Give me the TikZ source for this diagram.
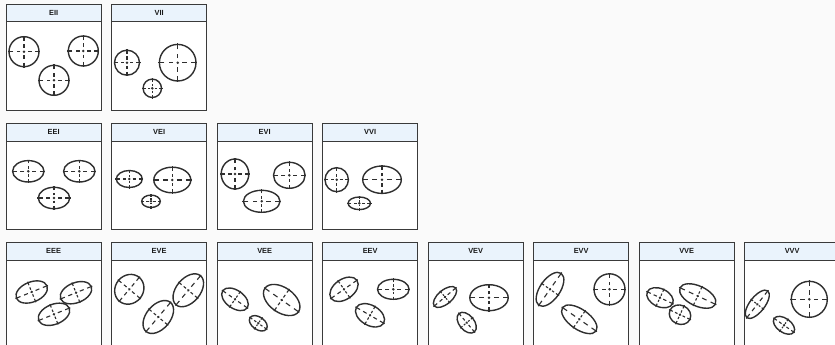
\documentclass[tikz,border=0pt]{standalone}
\usepackage{fontspec}
\setmainfont{Liberation Sans}
\definecolor{bg}{HTML}{FAFAFA}
\definecolor{hd}{HTML}{EAF3FC}
\definecolor{bd}{HTML}{3A3A3A}
\definecolor{ln}{HTML}{2F2F2F}
\tikzset{
  panelbody/.style={draw=bd, line width=1pt, fill=white, minimum width=95.3pt, minimum height=106.2pt, inner sep=0pt, outer sep=0pt, anchor=north west},
  panelhead/.style={draw=bd, line width=1pt, fill=hd, minimum width=95.3pt, minimum height=17.7pt, inner sep=0pt, outer sep=0pt, anchor=north west, font=\bfseries\fontsize{7.4}{8}\selectfont, text=black!90},
  ell/.style={draw=ln, line width=1.4pt},
  ax/.style={draw=ln, line width=1.1pt},
}
\newcommand{\gmell}[5]{%
  \begin{scope}[shift={(#1,#2)}, rotate=#5]
    \draw[ell] (0,0) ellipse [x radius=#3pt, y radius=#4pt];
    \foreach \s in {1,-1} {
      \draw[ax] ({\s*0.25*#3},0) -- ({\s*0.5*#3},0);
      \draw[ax] ({\s*0.73*#3},0) -- ({\s*(#3+1)},0);
      \draw[ax] (0,{\s*0.25*#4}) -- (0,{\s*0.5*#4});
      \draw[ax] (0,{\s*0.73*#4}) -- (0,{\s*(#4+1)});
    }
    \fill[ln] (0,0) circle [radius=1.4pt];
  \end{scope}}
\newcommand{\gmpanel}[4]{%
  \node[panelbody] (b#1) at ({6+105.5*#2},{4.3+119*#3}) {};
  \node[panelhead] (h#1) at ({6+105.5*#2},{4.3+119*#3}) {#4};}
\begin{document}
\begin{tikzpicture}[x=1pt, y=-1pt]
  \fill[bg] (0,0) rectangle (835,345);
  \useasboundingbox (0,0) rectangle (835,345);
  \clip (0,0) rectangle (835,345);
  % row 1
  \gmpanel{EII}{0}{0}{EII}
  \gmpanel{VII}{1}{0}{VII}
  % row 2
  \gmpanel{EEI}{0}{1}{EEI}
  \gmpanel{VEI}{1}{1}{VEI}
  \gmpanel{EVI}{2}{1}{EVI}
  \gmpanel{VVI}{3}{1}{VVI}
  % row 3
  \gmpanel{EEE}{0}{2}{EEE}
  \gmpanel{EVE}{1}{2}{EVE}
  \gmpanel{VEE}{2}{2}{VEE}
  \gmpanel{EEV}{3}{2}{EEV}
  \gmpanel{VEV}{4}{2}{VEV}
  \gmpanel{EVV}{5}{2}{EVV}
  \gmpanel{VVE}{6}{2}{VVE}
  \gmpanel{VVV}{7}{2}{VVV}
  % EII
  \gmell{24}{51.7}{15}{15}{0}
  \gmell{83.3}{51}{15}{15}{0}
  \gmell{54}{80.3}{15}{15}{0}
  % VII
  \gmell{127}{62.7}{12.5}{12.5}{0}
  \gmell{177.7}{62.7}{18.3}{18.3}{0}
  \gmell{152.3}{88.3}{9.2}{9.2}{0}
  % EEI
  \gmell{28.3}{171.3}{15.7}{10.7}{0}
  \gmell{79.3}{171.3}{15.7}{10.7}{0}
  \gmell{54}{198}{15.7}{10.7}{0}
  % VEI
  \gmell{129.3}{179}{13}{8.5}{0}
  \gmell{172.3}{180}{18.5}{12.8}{0}
  \gmell{151}{201.3}{9.3}{6.2}{0}
  % EVI
  \gmell{235}{174}{13.8}{15}{0}
  \gmell{289.3}{175.3}{15.8}{13}{0}
  \gmell{261.7}{201.3}{18.3}{11}{0}
  % VVI
  \gmell{336.7}{179.7}{11.7}{12}{0}
  \gmell{382}{179.7}{19.3}{13.7}{0}
  \gmell{359.3}{203.3}{11.2}{6.3}{0}
  % EEE
  \gmell{31.7}{292}{16.5}{10}{22}
  \gmell{76}{292.7}{16.5}{10}{22}
  \gmell{54}{314.3}{16.5}{10}{22}
  % EVE
  \gmell{129.3}{289.3}{15.5}{14}{50}
  \gmell{188.3}{290.3}{19}{12}{50}
  \gmell{158.3}{317}{19}{12}{50}
  % VEE
  \gmell{235}{299.3}{15}{9}{-35}
  \gmell{281.7}{300}{20.5}{12.5}{-35}
  \gmell{258.3}{323.3}{10}{6.3}{-35}
  % EEV
  \gmell{344}{289.3}{15.8}{10}{35}
  \gmell{393.3}{289.3}{15.8}{10}{0}
  \gmell{370}{315.3}{15.8}{10}{-30}
  % VEV
  \gmell{445}{297}{14}{7}{40}
  \gmell{489}{297.7}{19.2}{13}{0}
  \gmell{466.7}{322.7}{12}{7.5}{-50}
  % EVV
  \gmell{550}{289.3}{19.5}{10}{55}
  \gmell{609.5}{289.3}{15.5}{15.5}{0}
  \gmell{579.3}{319.3}{20.5}{10}{-35}
  % VVE
  \gmell{660}{297.7}{14}{9}{-25}
  \gmell{697.7}{296}{19.5}{10}{-25}
  \gmell{680}{314.7}{11}{9.5}{-25}
  % VVV
  \gmell{757.3}{304.3}{17}{7.5}{52}
  \gmell{809.3}{299.3}{18}{18}{0}
  \gmell{784}{325.3}{12}{7}{-35}
\end{tikzpicture}
\end{document}
